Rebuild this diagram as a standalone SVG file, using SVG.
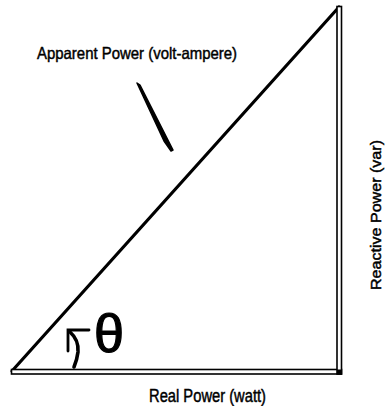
<svg xmlns="http://www.w3.org/2000/svg" width="386" height="406" viewBox="0 0 386 406">
<style>
.lbl{font-family:"Liberation Sans",Arial,sans-serif;fill:#000;stroke:#000;stroke-width:0.45}
.dbl{fill:#fff;stroke:#000;stroke-width:1.6}
.ln{stroke:#000;fill:none;stroke-linecap:round}
</style>
<rect width="386" height="406" fill="#fff"/>
<g id="connectors">
<line class="ln" x1="12" y1="371" x2="339" y2="7" stroke-width="3.2"/>
<rect class="dbl" x="11.5" y="369.5" width="330" height="4.5"/>
<rect class="dbl" x="337" y="6.5" width="4.5" height="367.5"/>
<rect x="337" y="369.5" width="5" height="5" fill="#000"/>
<path d="M137 83 L140 85 L173 150 L171 151 L164 141 Z" fill="#000" stroke="#000" stroke-width="1.5" stroke-linejoin="round"/>
</g>
<g id="angle">
<path class="ln" d="M89 330 L68 330 L68 351" stroke-width="2.8" stroke-linecap="butt"/>
<path class="ln" d="M70 332 Q79 340 78 352 Q77 360 74 367" stroke-width="3.6"/>
<text class="lbl" x="94" y="352" font-size="54" style="stroke-width:1.2">θ</text>
</g>
<g id="apparent">
<text class="lbl" x="37" y="59" font-size="16.5" textLength="200" lengthAdjust="spacingAndGlyphs">Apparent Power (volt-ampere)</text>
</g>
<g id="real">
<text class="lbl" x="149" y="401.5" font-size="17.5" textLength="117" lengthAdjust="spacingAndGlyphs">Real Power (watt)</text>
</g>
<g id="reactive">
<text class="lbl" transform="translate(381,215) rotate(-90)" x="0" y="0" font-size="15" text-anchor="middle" textLength="150" lengthAdjust="spacingAndGlyphs">Reactive Power (var)</text>
</g>
</svg>
